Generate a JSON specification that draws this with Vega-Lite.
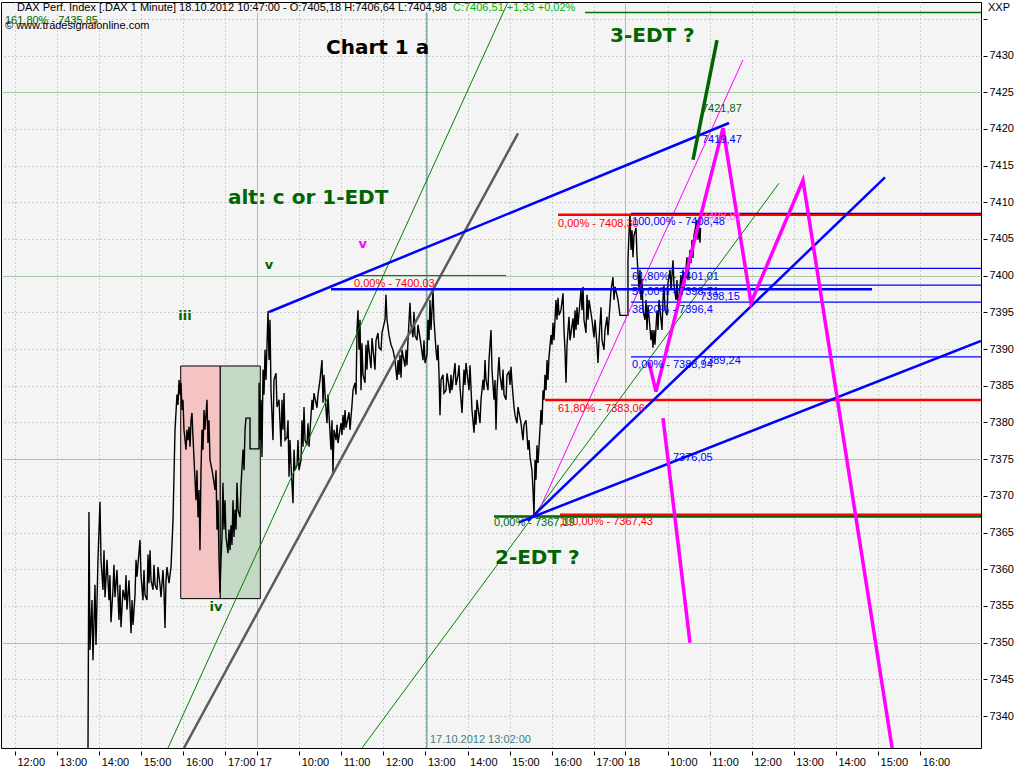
{
  "$schema": "https://vega.github.io/schema/vega-lite/v6.json",
  "width": 980,
  "height": 746,
  "autosize": {"type": "none"},
  "padding": {"left": 1, "top": 2, "right": 43, "bottom": 20},
  "background": "#ffffff",
  "config": {
    "view": {"fill": "#f4f4f4", "stroke": "#000000", "strokeWidth": 1},
    "font": "Liberation Sans"
  },
  "datasets": {
    "series": [
      {"t":4.733,"p":7334.0},{"t":4.757,"p":7367.8},{"t":4.781,"p":7349.0},{"t":4.829,"p":7355.8},{"t":4.852,"p":7347.6},{"t":4.900,"p":7357.9},{"t":4.924,"p":7349.7},{"t":4.971,"p":7361.3},{"t":5.019,"p":7369.2},{"t":5.043,"p":7361.3},
      {"t":5.090,"p":7357.2},{"t":5.114,"p":7362.6},{"t":5.138,"p":7356.2},{"t":5.185,"p":7361.3},{"t":5.233,"p":7355.8},{"t":5.256,"p":7359.2},{"t":5.280,"p":7352.8},{"t":5.327,"p":7357.2},{"t":5.351,"p":7360.6},{"t":5.375,"p":7356.2},
      {"t":5.422,"p":7359.9},{"t":5.470,"p":7353.1},{"t":5.494,"p":7357.9},{"t":5.518,"p":7352.1},{"t":5.565,"p":7357.2},{"t":5.613,"p":7355.8},{"t":5.637,"p":7359.2},{"t":5.660,"p":7354.5},{"t":5.708,"p":7358.5},{"t":5.756,"p":7351.3},
      {"t":5.780,"p":7355.8},{"t":5.803,"p":7352.4},{"t":5.851,"p":7356.5},{"t":5.875,"p":7361.3},{"t":5.898,"p":7359.0},{"t":5.969,"p":7364.0},{"t":5.993,"p":7359.2},{"t":6.040,"p":7355.8},{"t":6.064,"p":7359.9},{"t":6.088,"p":7356.5},
      {"t":6.135,"p":7355.8},{"t":6.159,"p":7362.0},{"t":6.183,"p":7358.1},{"t":6.207,"p":7362.6},{"t":6.231,"p":7358.5},{"t":6.278,"p":7357.2},{"t":6.302,"p":7360.6},{"t":6.326,"p":7357.9},{"t":6.373,"p":7357.2},{"t":6.397,"p":7360.3},
      {"t":6.444,"p":7357.9},{"t":6.468,"p":7356.2},{"t":6.515,"p":7359.9},{"t":6.539,"p":7357.2},{"t":6.563,"p":7352.0},{"t":6.587,"p":7358.5},{"t":6.610,"p":7360.3},{"t":6.658,"p":7358.1},{"t":6.706,"p":7360.3},{"t":6.753,"p":7366.7},
      {"t":6.801,"p":7379.0},{"t":6.848,"p":7383.8},{"t":6.872,"p":7382.4},{"t":6.896,"p":7385.8},{"t":6.919,"p":7383.8},{"t":6.943,"p":7385.4},{"t":6.967,"p":7381.7},{"t":6.990,"p":7383.1},{"t":7.014,"p":7379.0},{"t":7.062,"p":7376.3},
      {"t":7.085,"p":7379.0},{"t":7.109,"p":7377.6},{"t":7.133,"p":7379.4},{"t":7.157,"p":7376.7},{"t":7.181,"p":7380.3},{"t":7.204,"p":7381.3},{"t":7.228,"p":7378.0},{"t":7.276,"p":7372.2},{"t":7.299,"p":7369.4},{"t":7.323,"p":7373.5},
      {"t":7.347,"p":7367.1},{"t":7.371,"p":7370.8},{"t":7.394,"p":7362.6},{"t":7.418,"p":7373.5},{"t":7.442,"p":7379.0},{"t":7.465,"p":7376.3},{"t":7.489,"p":7381.7},{"t":7.513,"p":7379.0},{"t":7.560,"p":7383.1},{"t":7.584,"p":7377.2},
      {"t":7.608,"p":7380.3},{"t":7.632,"p":7374.9},{"t":7.680,"p":7373.5},{"t":7.727,"p":7371.8},{"t":7.751,"p":7370.8},{"t":7.775,"p":7373.5},{"t":7.798,"p":7365.4},{"t":7.822,"p":7369.4},{"t":7.846,"p":7361.3},{"t":7.869,"p":7356.8},
      {"t":7.893,"p":7361.3},{"t":7.917,"p":7364.4},{"t":7.940,"p":7371.8},{"t":7.964,"p":7365.4},{"t":7.988,"p":7369.4},{"t":8.012,"p":7364.4},{"t":8.059,"p":7362.2},{"t":8.083,"p":7365.4},{"t":8.107,"p":7362.6},{"t":8.131,"p":7366.0},
      {"t":8.154,"p":7363.3},{"t":8.178,"p":7369.4},{"t":8.202,"p":7364.4},{"t":8.226,"p":7368.1},{"t":8.250,"p":7365.4},{"t":8.273,"p":7371.8},{"t":8.297,"p":7368.1},{"t":8.345,"p":7367.1},{"t":8.369,"p":7371.5},{"t":8.416,"p":7376.3},
      {"t":8.440,"p":7373.5},{"t":8.464,"p":7379.0},{"t":8.487,"p":7380.6},{"t":8.582,"p":7380.6},{"t":8.583,"p":7376.4},{"t":8.796,"p":7376.4},{"t":8.797,"p":7385.4},{"t":8.820,"p":7377.6},{"t":8.844,"p":7383.1},{"t":8.867,"p":7375.3},
      {"t":8.891,"p":7387.2},{"t":8.915,"p":7383.8},{"t":8.939,"p":7389.9},{"t":8.962,"p":7385.8},{"t":9.010,"p":7395.2},{"t":9.034,"p":7388.5},{"t":9.057,"p":7394.0},{"t":9.081,"p":7384.4},{"t":9.128,"p":7377.6},{"t":9.152,"p":7385.8},
      {"t":9.200,"p":7386.7},{"t":9.223,"p":7382.1},{"t":9.271,"p":7383.1},{"t":9.319,"p":7376.7},{"t":9.342,"p":7383.1},{"t":9.366,"p":7379.0},{"t":9.390,"p":7384.0},{"t":9.414,"p":7377.6},{"t":9.461,"p":7378.0},{"t":9.485,"p":7380.3},
      {"t":9.509,"p":7372.6},{"t":9.532,"p":7377.6},{"t":9.556,"p":7374.2},{"t":9.603,"p":7369.0},{"t":9.627,"p":7376.3},{"t":9.651,"p":7373.5},{"t":9.699,"p":7374.2},{"t":9.722,"p":7377.6},{"t":9.746,"p":7373.5},{"t":9.794,"p":7374.9},
      {"t":9.817,"p":7380.3},{"t":9.841,"p":7376.7},{"t":9.865,"p":7382.1},{"t":9.889,"p":7377.6},{"t":9.936,"p":7376.9},{"t":9.960,"p":7379.9},{"t":9.984,"p":7376.7},{"t":10.055,"p":7383.1},{"t":10.078,"p":7381.7},{"t":10.102,"p":7384.0},
      {"t":10.173,"p":7382.0},{"t":10.197,"p":7383.8},{"t":10.245,"p":7385.8},{"t":10.292,"p":7388.5},{"t":10.316,"p":7382.7},{"t":10.340,"p":7386.5},{"t":10.364,"p":7383.8},{"t":10.411,"p":7379.9},{"t":10.435,"p":7383.8},{"t":10.459,"p":7381.0},
      {"t":10.506,"p":7376.3},{"t":10.530,"p":7380.3},{"t":10.553,"p":7373.1},{"t":10.577,"p":7379.0},{"t":10.625,"p":7377.6},{"t":10.649,"p":7379.7},{"t":10.672,"p":7377.2},{"t":10.744,"p":7379.9},{"t":10.767,"p":7378.3},{"t":10.791,"p":7381.0},
      {"t":10.815,"p":7379.0},{"t":10.839,"p":7381.7},{"t":10.862,"p":7379.3},{"t":10.934,"p":7381.4},{"t":10.957,"p":7379.0},{"t":11.005,"p":7382.4},{"t":11.029,"p":7384.4},{"t":11.076,"p":7385.4},{"t":11.100,"p":7383.8},{"t":11.124,"p":7392.6},
      {"t":11.147,"p":7395.3},{"t":11.171,"p":7389.9},{"t":11.195,"p":7394.0},{"t":11.219,"p":7384.4},{"t":11.242,"p":7390.8},{"t":11.266,"p":7386.5},{"t":11.314,"p":7385.4},{"t":11.337,"p":7390.6},{"t":11.361,"p":7387.2},{"t":11.385,"p":7391.2},
      {"t":11.456,"p":7387.4},{"t":11.480,"p":7391.5},{"t":11.551,"p":7387.2},{"t":11.575,"p":7391.2},{"t":11.622,"p":7392.2},{"t":11.646,"p":7390.2},{"t":11.694,"p":7389.9},{"t":11.717,"p":7392.2},{"t":11.789,"p":7394.0},{"t":11.812,"p":7397.4},
      {"t":11.836,"p":7394.0},{"t":11.884,"p":7391.9},{"t":11.931,"p":7390.6},{"t":11.979,"p":7389.9},{"t":12.026,"p":7388.5},{"t":12.074,"p":7385.8},{"t":12.098,"p":7388.5},{"t":12.121,"p":7386.5},{"t":12.145,"p":7389.2},{"t":12.169,"p":7386.1},
      {"t":12.193,"p":7389.9},{"t":12.264,"p":7387.6},{"t":12.288,"p":7389.9},{"t":12.311,"p":7387.8},{"t":12.335,"p":7391.2},{"t":12.382,"p":7396.3},{"t":12.406,"p":7393.3},{"t":12.454,"p":7391.6},{"t":12.477,"p":7395.1},{"t":12.501,"p":7391.9},
      {"t":12.549,"p":7391.2},{"t":12.572,"p":7393.3},{"t":12.644,"p":7390.6},{"t":12.691,"p":7388.5},{"t":12.715,"p":7391.2},{"t":12.739,"p":7388.1},{"t":12.786,"p":7389.2},{"t":12.810,"p":7394.0},{"t":12.834,"p":7391.2},{"t":12.857,"p":7396.7},
      {"t":12.881,"p":7392.6},{"t":12.929,"p":7398.05},{"t":12.952,"p":7394.0},{"t":13.000,"p":7389.9},{"t":13.024,"p":7388.5},{"t":13.047,"p":7390.6},{"t":13.071,"p":7386.7},{"t":13.095,"p":7381.0},{"t":13.119,"p":7385.8},{"t":13.166,"p":7386.5},
      {"t":13.190,"p":7384.0},{"t":13.238,"p":7384.4},{"t":13.261,"p":7386.7},{"t":13.333,"p":7384.0},{"t":13.356,"p":7386.5},{"t":13.380,"p":7384.4},{"t":13.452,"p":7388.1},{"t":13.475,"p":7385.1},{"t":13.523,"p":7386.5},{"t":13.546,"p":7387.8},
      {"t":13.570,"p":7384.8},{"t":13.618,"p":7381.3},{"t":13.641,"p":7384.4},{"t":13.665,"p":7387.2},{"t":13.689,"p":7385.1},{"t":13.713,"p":7388.1},{"t":13.784,"p":7384.4},{"t":13.808,"p":7387.8},{"t":13.855,"p":7381.7},{"t":13.903,"p":7378.6},
      {"t":13.927,"p":7381.7},{"t":13.950,"p":7379.7},{"t":13.974,"p":7383.1},{"t":14.045,"p":7379.9},{"t":14.069,"p":7383.1},{"t":14.117,"p":7385.8},{"t":14.140,"p":7384.4},{"t":14.164,"p":7388.5},{"t":14.188,"p":7385.8},{"t":14.235,"p":7384.4},
      {"t":14.259,"p":7388.5},{"t":14.307,"p":7392.6},{"t":14.330,"p":7387.2},{"t":14.378,"p":7383.1},{"t":14.402,"p":7385.8},{"t":14.425,"p":7379.0},{"t":14.449,"p":7384.4},{"t":14.496,"p":7388.9},{"t":14.520,"p":7386.5},{"t":14.568,"p":7384.4},
      {"t":14.592,"p":7387.2},{"t":14.615,"p":7383.8},{"t":14.663,"p":7383.1},{"t":14.687,"p":7386.5},{"t":14.734,"p":7386.9},{"t":14.758,"p":7385.1},{"t":14.782,"p":7387.6},{"t":14.805,"p":7385.4},{"t":14.853,"p":7382.1},{"t":14.877,"p":7381.0},
      {"t":14.924,"p":7379.9},{"t":14.948,"p":7382.1},{"t":15.019,"p":7379.9},{"t":15.066,"p":7377.6},{"t":15.090,"p":7379.7},{"t":15.138,"p":7380.3},{"t":15.185,"p":7376.3},{"t":15.209,"p":7377.6},{"t":15.233,"p":7375.3},{"t":15.280,"p":7373.5},
      {"t":15.304,"p":7370.8},{"t":15.328,"p":7367.4},{"t":15.352,"p":7374.9},{"t":15.375,"p":7372.2},{"t":15.399,"p":7376.9},{"t":15.423,"p":7374.5},{"t":15.470,"p":7379.0},{"t":15.494,"p":7381.7},{"t":15.518,"p":7379.7},{"t":15.542,"p":7384.4},
      {"t":15.565,"p":7383.1},{"t":15.589,"p":7386.5},{"t":15.613,"p":7384.4},{"t":15.637,"p":7388.5},{"t":15.660,"p":7385.8},{"t":15.684,"p":7388.9},{"t":15.732,"p":7391.9},{"t":15.755,"p":7390.6},{"t":15.779,"p":7393.6},{"t":15.803,"p":7391.2},
      {"t":15.850,"p":7396.7},{"t":15.874,"p":7394.0},{"t":15.898,"p":7397.0},{"t":15.922,"p":7394.6},{"t":15.969,"p":7395.3},{"t":16.017,"p":7397.6},{"t":16.040,"p":7392.6},{"t":16.064,"p":7389.9},{"t":16.088,"p":7385.4},{"t":16.112,"p":7390.6},
      {"t":16.159,"p":7394.4},{"t":16.183,"p":7391.2},{"t":16.254,"p":7394.2},{"t":16.278,"p":7391.5},{"t":16.302,"p":7395.3},{"t":16.326,"p":7392.6},{"t":16.349,"p":7395.7},{"t":16.373,"p":7393.3},{"t":16.444,"p":7398.05},{"t":16.468,"p":7395.3},
      {"t":16.492,"p":7398.5},{"t":16.515,"p":7394.0},{"t":16.563,"p":7392.2},{"t":16.587,"p":7397.4},{"t":16.610,"p":7394.0},{"t":16.634,"p":7396.7},{"t":16.705,"p":7394.0},{"t":16.753,"p":7391.6},{"t":16.777,"p":7394.0},{"t":16.824,"p":7390.6},
      {"t":16.848,"p":7388.1},{"t":16.872,"p":7391.2},{"t":16.919,"p":7395.7},{"t":16.943,"p":7391.2},{"t":16.990,"p":7389.9},{"t":17.014,"p":7392.6},{"t":17.061,"p":7394.4},{"t":17.085,"p":7391.9},{"t":17.157,"p":7398.05},{"t":17.204,"p":7399.8},
      {"t":17.228,"p":7396.7},{"t":17.252,"p":7398.5},{"t":17.323,"p":7396.7},{"t":17.370,"p":7394.6},{"t":17.559,"p":7394.6},{"t":17.560,"p":7402.1},{"t":17.584,"p":7405.8},{"t":17.608,"p":7408.4},{"t":17.632,"p":7403.5},{"t":17.656,"p":7406.2},
      {"t":17.679,"p":7402.5},{"t":17.703,"p":7405.5},{"t":17.751,"p":7406.5},{"t":17.774,"p":7402.8},{"t":17.822,"p":7398.05},{"t":17.846,"p":7400.8},{"t":17.869,"p":7396.7},{"t":17.893,"p":7399.4},{"t":17.917,"p":7395.3},{"t":17.964,"p":7394.0},
      {"t":17.988,"p":7396.7},{"t":18.012,"p":7392.6},{"t":18.036,"p":7396.0},{"t":18.107,"p":7391.2},{"t":18.131,"p":7392.6},{"t":18.154,"p":7390.2},{"t":18.178,"p":7392.6},{"t":18.202,"p":7390.6},{"t":18.249,"p":7395.3},{"t":18.273,"p":7392.6},
      {"t":18.297,"p":7396.7},{"t":18.368,"p":7392.6},{"t":18.392,"p":7396.7},{"t":18.416,"p":7398.7},{"t":18.440,"p":7395.3},{"t":18.487,"p":7394.6},{"t":18.511,"p":7399.0},{"t":18.558,"p":7400.8},{"t":18.582,"p":7398.05},{"t":18.629,"p":7402.1},
      {"t":18.653,"p":7398.7},{"t":18.701,"p":7396.7},{"t":18.724,"p":7399.4},{"t":18.748,"p":7395.7},{"t":18.820,"p":7400.1},{"t":18.843,"p":7397.4},{"t":18.867,"p":7400.8},{"t":18.891,"p":7398.05},{"t":18.962,"p":7402.5},{"t":18.986,"p":7399.4},
      {"t":19.033,"p":7403.5},{"t":19.057,"p":7401.7},{"t":19.081,"p":7404.9},{"t":19.105,"p":7402.4},{"t":19.128,"p":7405.5},{"t":19.200,"p":7407.6},{"t":19.223,"p":7404.9},{"t":19.247,"p":7406.6},{"t":19.271,"p":7404.5},{"t":19.283,"p":7406.5}
    ],
    "lines": [
      {"set":"ext","t":16.539,"p":7435.85,"t2":25.9454,"p2":7435.85},
      {"set":"retr0","t":11.052,"p":7400.03,"t2":14.663,"p2":7400.03},
      {"set":"retr","t":15.898,"p":7408.30,"t2":25.9454,"p2":7408.30},
      {"set":"retr","t":15.589,"p":7383.06,"t2":25.9454,"p2":7383.06},
      {"set":"base","t":14.378,"p":7367.19,"t2":25.9454,"p2":7367.19},
      {"set":"retr","t":15.945,"p":7367.43,"t2":25.9454,"p2":7367.43},
      {"set":"fib","t":17.632,"p":7408.48,"t2":25.9454,"p2":7408.48},
      {"set":"fib","t":17.632,"p":7401.01,"t2":25.9454,"p2":7401.01},
      {"set":"fib","t":17.632,"p":7398.71,"t2":25.9454,"p2":7398.71},
      {"set":"fib","t":17.632,"p":7396.40,"t2":25.9454,"p2":7396.40},
      {"set":"fib","t":17.632,"p":7388.94,"t2":25.9454,"p2":7388.94},
      {"set":"chanG","t":6.634,"p":7335.65,"t2":14.710,"p2":7437.29},
      {"set":"chanG","t":11.242,"p":7335.65,"t2":21.147,"p2":7412.6},
      {"set":"chanGray","t":7.014,"p":7335.65,"t2":14.948,"p2":7419.4},
      {"set":"chanM","t":15.399,"p":7367.4,"t2":20.292,"p2":7429.4},
      {"set":"edt3","t":19.105,"p":7415.8,"t2":19.675,"p2":7432.1},
      {"set":"trend","t":10.506,"p":7398.15,"t2":23.357,"p2":7398.15},
      {"set":"trend","t":9.033,"p":7395.05,"t2":19.960,"p2":7420.8},
      {"set":"trend","t":15.185,"p":7366.6,"t2":23.665,"p2":7413.4},
      {"set":"trend","t":14.971,"p":7366.4,"t2":25.9454,"p2":7391.1}
    ],
    "path": [
      {"seg":"A","o":1,"t":18.059,"p":7388.2},
      {"seg":"A","o":2,"t":18.226,"p":7384.2},
      {"seg":"A","o":3,"t":19.817,"p":7420.1},
      {"seg":"A","o":4,"t":20.482,"p":7396.3},
      {"seg":"A","o":5,"t":21.717,"p":7413.0},
      {"seg":"A","o":6,"t":23.879,"p":7334.0},
      {"seg":"B","o":1,"t":18.392,"p":7380.6},
      {"seg":"B","o":2,"t":19.033,"p":7350.0}
    ],
    "boxes": [
      {"k":"wave4a","t":6.936,"t2":7.876,"p":7356.0,"p2":7387.7},
      {"k":"wave4b","t":7.876,"t2":8.827,"p":7356.0,"p2":7387.7}
    ],
    "small": [
      {"k":"info","t":3.048,"p":7436.47,"s":"DAX Perf. Index [.DAX  1 Minute] 18.10.2012 10:47:00 - O:7405,18 H:7406,64 L:7404,98"},
      {"k":"change","t":13.404,"p":7436.47,"s":"C:7406,51 +1,33 +0,02%"},
      {"k":"edt","t":2.762,"p":7434.7,"s":"161,80% - 7435,85"},
      {"k":"info","t":2.762,"p":7434.0,"s":"© www.tradesignalonline.com"},
      {"k":"info","t":26.112,"p":7436.47,"s":"XXP"},
      {"k":"retr","t":11.052,"p":7398.9,"s":"0,00% - 7400,03"},
      {"k":"retr","t":15.898,"p":7407.0,"s":"0,00% - 7408,30"},
      {"k":"fib","t":17.656,"p":7407.3,"s":"100,00% - 7408,48"},
      {"k":"alt","t":19.318,"p":7408.0,"s":"7408,81"},
      {"k":"fib","t":17.656,"p":7399.8,"s":"61,80% - 7401,01"},
      {"k":"fib","t":17.656,"p":7397.8,"s":"50,00% - 7398,71"},
      {"k":"fib","t":19.271,"p":7397.1,"s":"7398,15"},
      {"k":"fib","t":17.656,"p":7395.3,"s":"38,20% - 7396,4"},
      {"k":"fib","t":17.656,"p":7387.8,"s":"0,00% - 7388,94"},
      {"k":"fib","t":19.295,"p":7388.4,"s":"7389,24"},
      {"k":"retr","t":15.898,"p":7381.8,"s":"61,80% - 7383,06"},
      {"k":"retr","t":15.945,"p":7366.4,"s":"100,00% - 7367,43"},
      {"k":"edt","t":14.378,"p":7366.3,"s":"0,00% - 7367,19"},
      {"k":"edt","t":19.318,"p":7422.7,"s":"7421,87"},
      {"k":"fib","t":19.318,"p":7418.5,"s":"7419,47"},
      {"k":"fib","t":18.629,"p":7375.2,"s":"7376,05"},
      {"k":"time","t":12.857,"p":7336.7,"s":"17.10.2012 13:02:00"}
    ],
    "big": [
      {"k":"title","t":10.387,"p":7431.0,"s":"Chart 1 a"},
      {"k":"edt","t":17.133,"p":7432.7,"s":"3-EDT ?"},
      {"k":"edt","t":8.059,"p":7410.6,"s":"alt: c or 1-EDT"},
      {"k":"edt","t":14.401,"p":7361.5,"s":"2-EDT ?"}
    ],
    "waves": [
      {"k":"main","t":9.033,"p":7401.5,"s":"v"},
      {"k":"alt","t":11.259,"p":7404.3,"s":"v"},
      {"k":"main","t":7.038,"p":7394.5,"s":"iii"},
      {"k":"main","t":7.774,"p":7354.8,"s":"iv"}
    ],
    "header": [
      {"t":2.69,"t2":16.539,"p":7435.85,"p2":7437.08}
    ],
    "marker": [
      {"t":12.783}
    ]
  },
  "encoding": {
    "x": {"field": "t", "type": "quantitative", "scale": {"domain": [2.6675, 25.9454], "nice": false, "zero": false},
      "axis": {
        "orient": "bottom", "title": null, "domain": false, "offset": 3, "tickSize": 4, "tickColor": "#000000",
        "values": [3,4,5,6,7,8,8.75,9.75,10.75,11.75,12.75,13.75,14.75,15.75,16.75,17.5,18.5,19.5,20.5,21.5,22.5,23.5,24.5],
        "labelExpr": "datum.value == 8.75 ? '17' : datum.value == 17.5 ? '18' : (9 + (datum.value < 8.75 ? datum.value : datum.value < 17.5 ? datum.value - 8.75 : datum.value - 17.5)) + ':00'",
        "labelAlign": "left", "labelBaseline": "top", "labelPadding": 1, "labelOffset": 2,
        "labelFont": "Liberation Sans", "labelFontSize": 11, "labelColor": "#000000", "labelFlush": false, "labelOverlap": false,
        "grid": true,
        "gridColor": {"condition": {"test": "datum.value == 8.75 || datum.value == 17.5", "value": "#a9c8a9"}, "value": "#9fb59f"},
        "gridDash": {"condition": {"test": "datum.value == 8.75 || datum.value == 17.5", "value": []}, "value": [1, 3]},
        "gridWidth": 1
      }
    },
    "y": {"field": "p", "type": "quantitative", "scale": {"domain": [7335.65, 7437.29], "nice": false, "zero": false},
      "axis": {
        "orient": "right", "title": null, "domain": false, "offset": 2, "tickSize": 4, "tickColor": "#000000",
        "values": [7340,7345,7350,7355,7360,7365,7370,7375,7380,7385,7390,7395,7400,7405,7410,7415,7420,7425,7430,7435],
        "labelExpr": "datum.value == 7435 ? '' : datum.label",
        "format": "d", "labelPadding": 2, "labelFont": "Liberation Sans", "labelFontSize": 11, "labelColor": "#000000",
        "labelFlush": false, "labelOverlap": false, "labelBaseline": "middle",
        "grid": true,
        "gridColor": {"condition": {"test": "datum.value % 25 == 0", "value": "#a9c8a9"}, "value": "#9fb59f"},
        "gridDash": {"condition": {"test": "datum.value % 25 == 0", "value": []}, "value": [1, 3]},
        "gridWidth": 1
      }
    }
  },
  "layer": [
    {
      "data": {"name": "marker"},
      "mark": {"type": "rule", "color": "#408080", "strokeWidth": 1},
      "encoding": {"y": null}
    },
    {
      "data": {"name": "header"},
      "mark": {"type": "rect", "fill": "#f4f4f4"},
      "encoding": {"x2": {"field": "t2"}, "y2": {"field": "p2"}}
    },
    {
      "data": {"name": "boxes"},
      "mark": {"type": "rect", "stroke": "#000000", "strokeWidth": 1},
      "encoding": {
        "x2": {"field": "t2"},
        "y2": {"field": "p2"},
        "fill": {"field": "k", "type": "nominal", "scale": {"domain": ["wave4a", "wave4b"], "range": ["#f4c3c3", "#c5d8c5"]}, "legend": null}
      }
    },
    {
      "data": {"name": "series"},
      "mark": {"type": "line", "color": "#000000", "strokeWidth": 1.4, "clip": true, "interpolate": "linear"},
      "encoding": {}
    },
    {
      "data": {"name": "lines"},
      "transform": [{"filter": "datum.set == 'ext'"}],
      "mark": {"type": "rule", "color": "#007000", "strokeWidth": 1.5, "clip": true},
      "encoding": {"x2": {"field": "t2"}, "y2": {"field": "p2"}}
    },
    {
      "data": {"name": "lines"},
      "transform": [{"filter": "datum.set == 'chanG'"}],
      "mark": {"type": "rule", "color": "#008000", "strokeWidth": 1, "clip": true},
      "encoding": {"x2": {"field": "t2"}, "y2": {"field": "p2"}}
    },
    {
      "data": {"name": "lines"},
      "transform": [{"filter": "datum.set == 'chanGray'"}],
      "mark": {"type": "rule", "color": "#5c5c5c", "strokeWidth": 2.5, "clip": true},
      "encoding": {"x2": {"field": "t2"}, "y2": {"field": "p2"}}
    },
    {
      "data": {"name": "lines"},
      "transform": [{"filter": "datum.set == 'chanM'"}],
      "mark": {"type": "rule", "color": "#ff00ff", "strokeWidth": 1, "clip": true},
      "encoding": {"x2": {"field": "t2"}, "y2": {"field": "p2"}}
    },
    {
      "data": {"name": "lines"},
      "transform": [{"filter": "datum.set == 'retr0'"}],
      "mark": {"type": "rule", "color": "#ff0000", "strokeWidth": 1, "clip": true},
      "encoding": {"x2": {"field": "t2"}, "y2": {"field": "p2"}}
    },
    {
      "data": {"name": "lines"},
      "transform": [{"filter": "datum.set == 'base'"}],
      "mark": {"type": "rule", "color": "#006400", "strokeWidth": 2.5, "clip": true},
      "encoding": {"x2": {"field": "t2"}, "y2": {"field": "p2"}}
    },
    {
      "data": {"name": "lines"},
      "transform": [{"filter": "datum.set == 'retr'"}],
      "mark": {"type": "rule", "color": "#ff0000", "strokeWidth": 2.5, "clip": true},
      "encoding": {"x2": {"field": "t2"}, "y2": {"field": "p2"}}
    },
    {
      "data": {"name": "lines"},
      "transform": [{"filter": "datum.set == 'fib'"}],
      "mark": {"type": "rule", "color": "#0000ff", "strokeWidth": 1.2, "clip": true},
      "encoding": {"x2": {"field": "t2"}, "y2": {"field": "p2"}}
    },
    {
      "data": {"name": "lines"},
      "transform": [{"filter": "datum.set == 'trend'"}],
      "mark": {"type": "rule", "color": "#0000ff", "strokeWidth": 2.5, "clip": true},
      "encoding": {"x2": {"field": "t2"}, "y2": {"field": "p2"}}
    },
    {
      "data": {"name": "lines"},
      "transform": [{"filter": "datum.set == 'edt3'"}],
      "mark": {"type": "rule", "color": "#006400", "strokeWidth": 3.5, "clip": true},
      "encoding": {"x2": {"field": "t2"}, "y2": {"field": "p2"}}
    },
    {
      "data": {"name": "path"},
      "mark": {"type": "line", "color": "#ff00ff", "strokeWidth": 3.5, "clip": true},
      "encoding": {
        "detail": {"field": "seg", "type": "nominal"},
        "order": {"field": "o", "type": "quantitative"}
      }
    },
    {
      "data": {"name": "small"},
      "mark": {"type": "text", "align": "left", "baseline": "middle", "font": "Liberation Sans", "fontSize": 11},
      "encoding": {
        "text": {"field": "s", "type": "nominal"},
        "color": {"field": "k", "type": "nominal", "scale": {"domain": ["info", "change", "edt", "retr", "fib", "alt", "time"], "range": ["#000000", "#00b400", "#006400", "#ff0000", "#0000ff", "#ff66ff", "#408080"]}, "legend": null}
      }
    },
    {
      "data": {"name": "big"},
      "mark": {"type": "text", "align": "left", "baseline": "middle", "font": "DejaVu Sans", "fontWeight": "bold", "fontSize": 20},
      "encoding": {
        "text": {"field": "s", "type": "nominal"},
        "color": {"field": "k", "type": "nominal", "scale": {"domain": ["title", "edt"], "range": ["#000000", "#006400"]}, "legend": null}
      }
    },
    {
      "data": {"name": "waves"},
      "mark": {"type": "text", "align": "center", "baseline": "middle", "font": "DejaVu Sans", "fontWeight": "bold", "fontSize": 13},
      "encoding": {
        "text": {"field": "s", "type": "nominal"},
        "color": {"field": "k", "type": "nominal", "scale": {"domain": ["main", "alt"], "range": ["#006400", "#ff00ff"]}, "legend": null}
      }
    }
  ],
  "resolve": {"scale": {"color": "independent", "fill": "independent"}}
}
